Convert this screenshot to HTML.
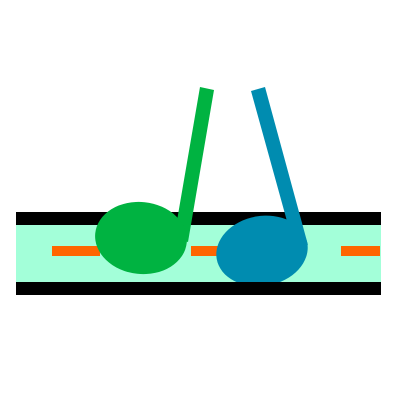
<!DOCTYPE html>
<html><head><meta charset="utf-8"><style>html,body{margin:0;padding:0;background:#fff;width:400px;height:400px;overflow:hidden}</style></head>
<body>
<svg width="400" height="400" viewBox="0 0 400 400">
<rect x="16" y="225" width="365" height="57" fill="#a3ffd9"/>
<rect x="16" y="212" width="365" height="13" fill="#000"/>
<rect x="52" y="246" width="48" height="10" fill="#ff6600"/>
<rect x="191" y="246" width="30" height="10" fill="#ff6600"/>
<rect x="341" y="246" width="39" height="10" fill="#ff6600"/>
<g>
<polygon points="200,87 214,90 188,242 174,238" fill="#00b341"/>
<ellipse cx="141" cy="238" rx="46" ry="36" transform="rotate(6 141 238)" fill="#00b341"/>
</g>
<g>
<polygon points="251,91 265,87 308,245 290,232" fill="#008cb0"/>
<ellipse cx="262" cy="251" rx="46" ry="35" transform="rotate(-10 262 251)" fill="#008cb0"/>
</g>
<rect x="16" y="282" width="365" height="13" fill="#000"/>
</svg>
</body></html>
